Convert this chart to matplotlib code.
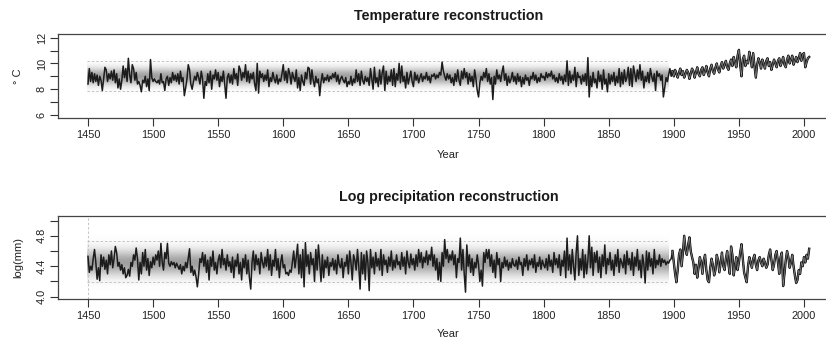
import numpy as np
import matplotlib
matplotlib.use("Agg")
import matplotlib.pyplot as plt

plt.rcParams['font.family'] = ['Liberation Sans', 'DejaVu Sans']

years = list(range(1450, 2005))

temperature = [
    8.4, 9.6, 8.6, 9.3, 8.5, 9.2, 8.6, 9.1, 8.3, 9.0,
    8.7, 7.9, 8.8, 9.7, 9.5, 8.6, 9.2, 8.8, 9.4, 8.7,
    9.5, 8.5, 9.2, 8.1, 8.8, 8.0, 8.7, 9.8, 8.9, 9.6,
    8.6, 10.4, 9.1, 8.5, 9.9, 9.6, 8.7, 9.3, 8.4, 8.6,
    8.3, 7.8, 8.7, 8.5, 9.0, 8.2, 8.8, 7.9, 10.3, 8.9,
    8.6, 8.8, 8.6, 8.5, 8.7, 8.4, 9.2, 8.5, 8.6, 7.9,
    8.8, 9.0, 8.3, 8.9, 8.5, 9.3, 8.7, 9.1, 8.6, 9.2,
    8.4, 9.4, 8.6, 8.9, 7.5, 8.1, 8.8, 9.9, 9.5, 8.4,
    8.0, 8.6, 9.0, 8.7, 9.3, 8.9, 8.4, 9.4, 8.8, 7.3,
    8.6, 8.3, 9.2, 8.5, 9.4, 8.0, 9.1, 8.8, 9.5, 8.7,
    9.3, 8.2, 9.0, 8.6, 9.4, 8.4, 7.3, 8.9, 9.2, 8.5,
    9.1, 8.4, 9.6, 8.8, 9.2, 8.3, 9.8, 9.5, 8.7, 9.3,
    8.9, 9.9, 8.6, 9.4, 8.5, 9.2, 8.8, 9.3, 8.4, 7.9,
    10.0, 7.7, 9.4, 8.9, 9.2, 8.6, 9.1, 8.7, 9.5, 8.2,
    8.9, 8.6, 9.3, 8.8, 8.5, 9.1, 8.4, 8.8, 8.6, 9.2,
    9.9, 8.7, 9.4, 8.5, 9.6, 9.2, 8.4, 9.3, 8.9, 8.6,
    9.5, 8.1, 8.9, 7.9, 9.1, 8.6, 8.3, 9.3, 8.8, 9.7,
    9.6, 8.4, 9.5, 8.7, 8.2, 9.0, 8.5, 8.8, 7.5, 8.6,
    9.2, 8.5, 8.9, 8.7, 9.1, 8.6, 9.0, 8.8, 9.2, 8.9,
    9.3, 8.6, 9.1, 8.4, 8.8, 9.0, 8.7, 8.5, 8.9, 8.2,
    8.6, 8.4, 9.0, 8.3, 8.8, 8.5, 9.5, 8.6, 9.2, 8.3,
    9.4, 8.7, 8.4, 9.0, 8.6, 8.9, 8.3, 9.6, 8.8, 8.0,
    9.7, 8.5, 8.9, 8.2, 9.5, 8.4, 9.3, 9.8, 7.9, 9.4,
    8.4, 9.0, 8.6, 9.5, 8.3, 9.6, 8.2, 9.2, 8.7, 10.0,
    8.5, 9.8, 8.6, 9.0, 8.1, 9.3, 8.4, 8.9, 9.4, 8.6,
    8.2, 9.3, 8.7, 9.1, 8.5, 8.9, 9.2, 8.6, 9.0, 8.8,
    9.3, 8.7, 9.0, 8.5, 9.1, 9.0, 9.2, 8.8, 9.1, 8.9,
    9.3, 9.1, 10.1, 9.4, 9.0, 8.7, 9.2, 8.8, 9.1, 8.5,
    8.9, 8.3, 9.2, 8.6, 9.5, 8.7, 8.3, 9.4, 8.8, 9.6,
    8.9, 9.3, 8.4, 9.2, 8.6, 9.0, 8.2, 9.5, 8.8, 7.9,
    7.4, 8.5, 9.0, 8.7, 9.3, 8.9, 9.6, 8.6, 9.2, 8.4,
    8.9, 7.2, 9.0, 8.4, 9.5, 8.8, 9.1, 8.6, 9.3, 9.8,
    8.7, 9.2, 8.3, 9.0, 8.5, 8.8, 9.3, 8.6, 9.0, 8.4,
    9.2, 8.6, 9.0, 8.2, 8.9, 8.4, 9.1, 8.7, 8.9, 8.3,
    9.0, 8.8, 9.3, 8.7, 9.1, 8.5, 8.9, 8.6, 9.2, 8.9,
    9.0, 8.7, 9.3, 8.9, 9.2, 9.0, 9.4, 8.8, 9.1, 8.6,
    8.9, 8.5, 9.2, 8.7, 9.0, 8.4, 9.1, 8.6, 10.2, 8.3,
    9.4, 8.5, 9.1, 8.7, 9.7, 8.2, 9.3, 8.9, 9.0, 8.4,
    9.1, 8.6, 9.2, 8.3, 10.45, 7.4, 9.0, 8.2, 9.3, 8.5,
    8.8, 8.1, 9.4, 8.6, 9.1, 8.0, 9.5, 8.4, 8.8, 7.8,
    9.2, 8.4, 9.1, 8.6, 9.3, 8.3, 9.0, 8.5, 9.6, 8.2,
    9.3, 8.4, 9.5, 8.6, 8.9, 9.7, 8.3, 9.6, 8.2, 9.8,
    9.2, 8.6, 9.5, 8.8, 9.9, 8.7, 9.4, 8.1, 9.0, 8.6,
    9.3, 8.5, 9.6, 9.0, 8.6, 9.2, 7.9, 9.4, 9.0, 9.2,
    8.7, 9.1, 7.4, 8.1, 8.9, 8.6, 9.1, 9.6, 9.0, 9.4,
    9.0, 9.5, 9.2, 8.9, 9.3, 9.6, 9.1, 9.4, 8.9, 9.2,
    9.5, 9.3, 8.8, 9.2, 9.6, 9.4, 8.9, 9.3, 9.7, 9.2,
    9.0, 9.5, 9.7, 9.1, 9.4, 9.8, 9.3, 9.0, 9.6, 9.9,
    9.4, 9.2, 9.7, 10.0, 9.5, 9.3, 9.8, 10.1, 9.6, 9.9,
    10.2, 9.7, 9.5, 10.0, 10.3, 9.8, 10.5, 10.1, 9.7, 10.6,
    11.05, 9.9, 9.0, 10.3, 10.6, 9.8, 10.2, 10.0, 10.9, 10.4,
    9.7, 10.8, 9.8, 8.9, 9.9, 10.4, 10.1, 9.6, 10.3, 10.0,
    9.6, 10.2, 10.4, 9.8, 10.1, 9.5, 9.9, 10.3, 10.0, 9.7,
    10.2, 10.4, 9.8, 10.1, 10.5, 9.9, 9.7, 10.3, 10.6, 10.0,
    10.3, 10.6, 9.9, 10.2, 10.5, 10.1, 10.4, 10.8, 10.2, 10.7,
    10.8, 9.7, 10.1, 10.4, 10.5,
]

log_precip = [
    4.53, 4.32, 4.40, 4.35, 4.50, 4.62, 4.45, 4.23, 4.38, 4.21,
    4.55, 4.40, 4.52, 4.36, 4.48, 4.30, 4.55, 4.42, 4.60, 4.38,
    4.50, 4.66, 4.58, 4.40, 4.45, 4.35, 4.42, 4.30, 4.38, 4.25,
    4.28, 4.36, 4.27, 4.45, 4.40, 4.55, 4.48, 4.64, 4.50, 4.22,
    4.45, 4.30, 4.58, 4.40, 4.62, 4.35, 4.50, 4.28, 4.46, 4.38,
    4.52, 4.42, 4.55, 4.48, 4.60, 4.40, 4.70, 4.45, 4.35, 4.58,
    4.50, 4.70, 4.44, 4.40, 4.46, 4.42, 4.45, 4.38, 4.44, 4.40,
    4.36, 4.42, 4.30, 4.40, 4.34, 4.45, 4.38, 4.50, 4.63, 4.32,
    4.40, 4.28, 4.35, 4.26, 4.13, 4.30, 4.50, 4.45, 4.58, 4.40,
    4.55, 4.32, 4.48, 4.22, 4.52, 4.40, 4.60, 4.35, 4.45, 4.30,
    4.48, 4.55, 4.38, 4.62, 4.42, 4.50, 4.35, 4.55, 4.40, 4.46,
    4.32, 4.52, 4.25, 4.48, 4.40, 4.56, 4.30, 4.45, 4.22, 4.50,
    4.38, 4.55, 4.30, 4.48, 4.25, 4.10, 4.45, 4.60, 4.35, 4.55,
    4.42, 4.50, 4.30, 4.58, 4.45, 4.38, 4.52, 4.40, 4.62, 4.35,
    4.55, 4.28, 4.48, 4.40, 4.62, 4.35, 4.50, 4.25, 4.45, 4.55,
    4.38, 4.42, 4.30, 4.32, 4.28, 4.35, 4.32, 4.45, 4.60, 4.38,
    4.52, 4.69, 4.30, 4.55, 4.25, 4.62, 4.13, 4.71, 4.40, 4.55,
    4.30, 4.58, 4.42, 4.50, 4.20, 4.62, 4.35, 4.68, 4.45, 4.20,
    4.55, 4.25, 4.48, 4.38, 4.52, 4.28, 4.45, 4.40, 4.50, 4.35,
    4.48, 4.30, 4.55, 4.42, 4.38, 4.50, 4.25, 4.45, 4.40, 4.55,
    4.30, 4.60, 4.45, 4.22, 4.55, 4.48, 4.35, 4.62, 4.40, 4.10,
    4.58, 4.30, 4.55, 4.22, 4.60, 4.45, 4.08, 4.62, 4.38, 4.52,
    4.30, 4.58, 4.40, 4.50, 4.35, 4.62, 4.28, 4.55, 4.42, 4.48,
    4.32, 4.52, 4.40, 4.60, 4.35, 4.48, 4.38, 4.55, 4.42, 4.46,
    4.36, 4.58, 4.40, 4.52, 4.30, 4.60, 4.45, 4.38, 4.56, 4.42,
    4.50, 4.35, 4.55, 4.40, 4.62, 4.45, 4.58, 4.38, 4.52, 4.45,
    4.60, 4.42, 4.55, 4.48, 4.65, 4.40, 4.55, 4.35, 4.50, 4.22,
    4.45, 4.20, 4.58, 4.40, 4.75, 4.50, 4.62, 4.45, 4.55, 4.48,
    4.60, 4.42, 4.55, 4.25, 4.50, 4.45, 4.77, 4.35, 4.62, 4.30,
    4.06, 4.68, 4.40, 4.55, 4.32, 4.50, 4.28, 4.45, 4.38, 4.55,
    4.42, 4.20, 4.35, 4.14, 4.58, 4.45, 4.62, 4.50, 4.62, 4.40,
    4.55, 4.32, 4.48, 4.25, 4.58, 4.42, 4.50, 4.20, 4.45, 4.38,
    4.52, 4.40, 4.48, 4.35, 4.45, 4.38, 4.50, 4.42, 4.40, 4.48,
    4.36, 4.52, 4.42, 4.45, 4.28, 4.50, 4.40, 4.55, 4.35, 4.48,
    4.42, 4.50, 4.38, 4.55, 4.32, 4.45, 4.40, 4.52, 4.36, 4.48,
    4.42, 4.38, 4.50, 4.35, 4.55, 4.40, 4.48, 4.32, 4.58, 4.42,
    4.50, 4.38, 4.55, 4.28, 4.48, 4.40, 4.60, 4.25, 4.77, 4.35,
    4.55, 4.30, 4.62, 4.40, 4.22, 4.58, 4.80, 4.28, 4.50, 4.35,
    4.62, 4.25, 4.55, 4.30, 4.48, 4.80, 4.38, 4.65, 4.28, 4.58,
    4.45, 4.60, 4.32, 4.52, 4.25, 4.55, 4.40, 4.68, 4.30, 4.50,
    4.42, 4.58, 4.35, 4.48, 4.28, 4.55, 4.40, 4.62, 4.32, 4.50,
    4.45, 4.38, 4.55, 4.30, 4.60, 4.42, 4.50, 4.35, 4.58, 4.28,
    4.52, 4.40, 4.62, 4.35, 4.48, 4.25, 4.55, 4.42, 4.18, 4.60,
    4.35, 4.58, 4.40, 4.50, 4.30, 4.62, 4.38, 4.48, 4.42, 4.55,
    4.40, 4.50, 4.45, 4.48, 4.42, 4.46, 4.44, 4.48, 4.50, 4.60,
    4.45, 4.30, 4.19, 4.35, 4.55, 4.62, 4.40, 4.58, 4.80, 4.62,
    4.55, 4.68, 4.78, 4.60, 4.52, 4.45, 4.30, 4.42, 4.25, 4.38,
    4.52, 4.45, 4.30, 4.48, 4.55, 4.35, 4.22, 4.19, 4.38, 4.50,
    4.42, 4.28, 4.35, 4.55, 4.48, 4.32, 4.45, 4.58, 4.40, 4.35,
    4.50, 4.60, 4.42, 4.30, 4.66, 4.55, 4.28, 4.40, 4.52, 4.35,
    4.45, 4.58, 4.69, 4.50, 4.32, 4.25, 4.19, 4.40, 4.52, 4.45,
    4.38, 4.50, 4.55, 4.42, 4.35, 4.48, 4.52, 4.45, 4.40, 4.50,
    4.45, 4.38, 4.42, 4.55, 4.62, 4.48, 4.35, 4.42, 4.55, 4.60,
    4.45, 4.30, 4.52, 4.58, 4.14, 4.30, 4.48, 4.60, 4.52, 4.38,
    4.45, 4.55, 4.40, 4.28, 4.18, 4.22, 4.35, 4.30, 4.45, 4.40,
    4.52, 4.45, 4.55, 4.50, 4.63,
]

# reconstruction band (uncertainty envelope) parameters
recon_end = 1896
temp_band = (7.83, 8.95, 10.15)      # lower, centre, upper
prec_band = (4.19, 4.45, 4.73)
instr_start = 1900

x_ticks = [1450, 1500, 1550, 1600, 1650, 1700, 1750, 1800, 1850, 1900, 1950, 2000]
temp_ticks = [6, 7, 8, 9, 10, 11, 12]
temp_labels = ['6', '', '8', '', '10', '', '12']
prec_ticks = [4.0, 4.2, 4.4, 4.6, 4.8, 5.0]
prec_labels = ['4.0', '', '4.4', '', '4.8', '']

W, H = 826, 340
fig = plt.figure(figsize=(W / 100, H / 100), dpi=100)

axL, axR = 58, 839
ax1 = fig.add_axes([axL / W, 1 - 118 / H, (axR - axL) / W, (118 - 34) / H])
ax2 = fig.add_axes([axL / W, 1 - 299 / H, (axR - axL) / W, (299 - 216) / H])

xlim = (1426.95, 2026.9)
yrs = np.array(years)


def draw_band(ax, band, sigma):
    lo, c, hi = band
    yy = np.linspace(lo - 0.3 * (hi - lo), hi + 0.3 * (hi - lo), 300)
    alpha = np.exp(-0.5 * ((yy - c) / sigma) ** 2) * 0.6
    img = np.zeros((len(yy), 1, 4))
    img[..., 0] = 0.38
    img[..., 1] = 0.38
    img[..., 2] = 0.38
    img[:, 0, 3] = alpha
    ax.imshow(img, extent=[years[0] - 1, recon_end, yy[0], yy[-1]],
              origin='lower', aspect='auto', interpolation='bilinear', zorder=0)
    for v in (lo, hi):
        ax.plot([years[0] - 1, recon_end], [v, v], color='#c4c4c4', lw=0.7,
                dashes=(2.5, 2), zorder=1)


def draw_series(ax, vals):
    v = np.array(vals)
    ax.plot(yrs, v, color='#1c1c1c', lw=1.1, zorder=3)
    m = yrs >= instr_start - 1
    ax.plot(yrs[m], v[m], color='#1c1c1c', lw=1.7, zorder=4,
            solid_joinstyle='round')
    ax.plot(yrs[m], v[m], color='#8f8f8f', lw=0.45, zorder=5)


def style(ax, ylim, yt, ytl, ylabel, title, title_off, xlab_off):
    ax.set_xlim(*xlim)
    ax.set_ylim(*ylim)
    ax.set_xticks(x_ticks)
    ax.set_xticklabels([str(t) for t in x_ticks])
    ax.set_yticks(yt)
    ax.set_yticklabels(ytl, rotation=90, va='center')
    ax.tick_params(axis='both', direction='out', length=5.5, width=0.8,
                   colors='#333333', labelsize=7.9, labelcolor='#222222')
    ax.tick_params(axis='x', pad=3.2)
    ax.tick_params(axis='y', pad=2.5)
    for s in ax.spines.values():
        s.set_color('#444444')
        s.set_linewidth(0.9)
    ax.set_ylabel(ylabel, fontsize=8.0, color='#222222', va='center', ha='center')
    ax.yaxis.set_label_coords(-0.0512, 0.5)
    ax.set_xlabel('Year', fontsize=8.0, color='#222222', va='center')
    ax.xaxis.set_label_coords(0.5, xlab_off)
    ax.text(0.5, title_off, title, transform=ax.transAxes, ha='center',
            va='center', fontsize=10.3, fontweight='bold', color='#1a1a1a')


draw_band(ax1, temp_band, 0.45)
draw_series(ax1, temperature)
style(ax1, (5.77, 12.28), temp_ticks, temp_labels, '° C',
      'Temperature reconstruction', 1 + 18 / 84, -(155 - 118) / 84)

draw_band(ax2, prec_band, 0.115)
ax2.axvline(1450, color='#c4c4c4', lw=0.7, dashes=(2.5, 2), zorder=1)
draw_series(ax2, log_precip)
style(ax2, (3.97, 5.06), prec_ticks, prec_labels, 'log(mm)',
      'Log precipitation reconstruction', 1 + 19 / 83, -(334 - 299) / 83)

fig.savefig('out.png', dpi=100)
